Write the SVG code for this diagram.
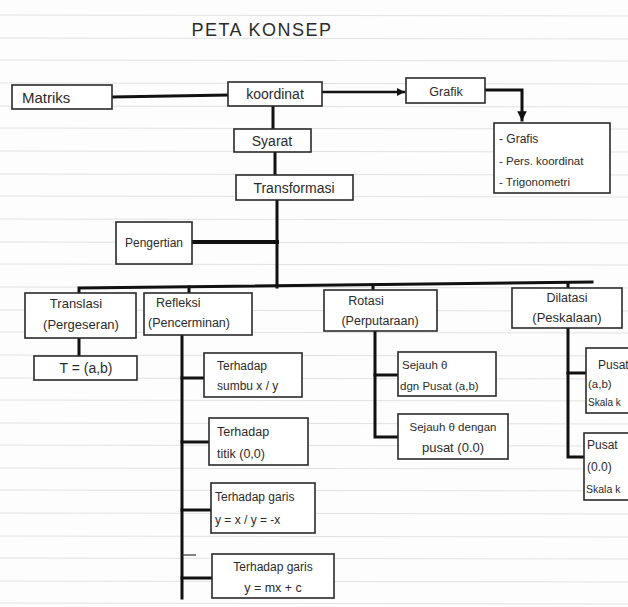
<svg xmlns="http://www.w3.org/2000/svg" width="628" height="607" viewBox="0 0 628 607">
<defs>
<style>
.box{fill:#fff;stroke:#2a2a2a;stroke-width:1.6}
.t{font-family:"Liberation Sans","DejaVu Sans",sans-serif;fill:#2b2b2b;font-size:12.5px}
.c{stroke:#111;stroke-width:3;fill:none;stroke-linecap:square}
.rule{stroke:#e2e2e2;stroke-width:1}
</style>
<marker id="ah" viewBox="0 0 10 10" refX="9" refY="5" markerWidth="3.2" markerHeight="3.2" orient="auto">
<path d="M0,0 L10,5 L0,10 Z" fill="#111"/>
</marker>
</defs>
<rect width="628" height="607" fill="#fdfdfd"/>
<g id="paper-lines">
<line class="rule" x1="0" y1="15" x2="628" y2="16"/>
<line class="rule" x1="0" y1="38" x2="628" y2="39"/>
<line class="rule" x1="0" y1="60" x2="628" y2="61"/>
<line class="rule" x1="0" y1="83" x2="628" y2="84"/>
<line class="rule" x1="0" y1="106" x2="628" y2="107"/>
<line class="rule" x1="0" y1="128" x2="628" y2="129"/>
<line class="rule" x1="0" y1="151" x2="628" y2="152"/>
<line class="rule" x1="0" y1="174" x2="628" y2="175"/>
<line class="rule" x1="0" y1="196" x2="628" y2="197"/>
<line class="rule" x1="0" y1="219" x2="628" y2="220"/>
<line class="rule" x1="0" y1="242" x2="628" y2="243"/>
<line class="rule" x1="0" y1="264" x2="628" y2="265"/>
<line class="rule" x1="0" y1="287" x2="628" y2="288"/>
<line class="rule" x1="0" y1="310" x2="628" y2="311"/>
<line class="rule" x1="0" y1="332" x2="628" y2="333"/>
<line class="rule" x1="0" y1="355" x2="628" y2="356"/>
<line class="rule" x1="0" y1="378" x2="628" y2="379"/>
<line class="rule" x1="0" y1="400" x2="628" y2="401"/>
<line class="rule" x1="0" y1="423" x2="628" y2="424"/>
<line class="rule" x1="0" y1="445" x2="628" y2="446"/>
<line class="rule" x1="0" y1="468" x2="628" y2="469"/>
<line class="rule" x1="0" y1="490" x2="628" y2="491"/>
<line class="rule" x1="0" y1="513" x2="628" y2="514"/>
<line class="rule" x1="0" y1="536" x2="628" y2="537"/>
<line class="rule" x1="0" y1="558" x2="628" y2="559"/>
<line class="rule" x1="0" y1="581" x2="628" y2="582"/>
<line class="rule" x1="0" y1="603" x2="628" y2="604"/>
</g>
<text class="t" x="262" y="36" text-anchor="middle" style="font-size:18px;letter-spacing:1.5px">PETA KONSEP</text>
<g id="connectors">
<line class="c" x1="112" y1="97" x2="228" y2="95"/>
<line class="c" x1="322" y1="92" x2="404" y2="92" marker-end="url(#ah)" style="stroke-width:2.5"/>
<path class="c" d="M485,90 H522 V120" marker-end="url(#ah)"/>
<line class="c" x1="273" y1="106" x2="273" y2="129"/>
<line class="c" x1="275" y1="152" x2="275" y2="175"/>
<line class="c" x1="277" y1="200" x2="277" y2="287"/>
<line class="c" x1="192" y1="242" x2="277" y2="242" style="stroke-width:4"/>
<path class="c" d="M79,293 V288 L592,282"/>
<line class="c" x1="189" y1="287" x2="189" y2="293"/>
<line class="c" x1="373" y1="285" x2="373" y2="290"/>
<line class="c" x1="568" y1="283" x2="568" y2="288"/>
<line class="c" x1="79" y1="338" x2="79" y2="356"/>
<line class="c" x1="182" y1="335" x2="182" y2="598"/>
<line class="c" x1="182" y1="378" x2="204" y2="378"/>
<line class="c" x1="182" y1="442" x2="209" y2="442"/>
<line class="c" x1="182" y1="510" x2="211" y2="510"/>
<line class="c" x1="182" y1="578" x2="212" y2="578"/>
<line x1="182" y1="555" x2="196" y2="555" stroke="#333" stroke-width="1.2"/>
<path class="c" d="M375,331 V437 H398"/>
<line class="c" x1="375" y1="375" x2="398" y2="375"/>
<path class="c" d="M568,328 V457 H584"/>
<line class="c" x1="568" y1="373" x2="586" y2="373"/>
</g>
<g id="matriks"><rect class="box" x="12" y="85" width="100" height="24"/><text class="t" x="22" y="103" style="font-size:15px">Matriks</text></g>
<g id="koordinat"><rect class="box" x="228" y="82" width="94" height="24"/><text class="t" x="275" y="99" text-anchor="middle" style="font-size:14px">koordinat</text></g>
<g id="grafik"><rect class="box" x="406" y="78" width="79" height="25"/><text class="t" x="446" y="96" text-anchor="middle">Grafik</text></g>
<g id="grafik-list"><rect class="box" x="494" y="123" width="116" height="70"/>
<text class="t" x="499" y="143" style="font-size:12px">- Grafis</text>
<text class="t" x="499" y="165" style="font-size:11.5px">- Pers. koordinat</text>
<text class="t" x="499" y="186" style="font-size:11.5px">- Trigonometri</text></g>
<g id="syarat"><rect class="box" x="234" y="129" width="77" height="23"/><text class="t" x="272" y="146" text-anchor="middle" style="font-size:14px">Syarat</text></g>
<g id="transformasi"><rect class="box" x="236" y="175" width="117" height="25"/><text class="t" x="294" y="193" text-anchor="middle" style="font-size:14px">Transformasi</text></g>
<g id="pengertian"><rect class="box" x="116" y="222" width="76" height="42"/><text class="t" x="154" y="247" text-anchor="middle" style="font-size:12px">Pengertian</text></g>
<g id="translasi"><rect class="box" x="25" y="293" width="111" height="45"/>
<text class="t" x="76" y="308" text-anchor="middle" style="font-size:13px">Translasi</text>
<text class="t" x="81" y="329" text-anchor="middle" style="font-size:13px">(Pergeseran)</text></g>
<g id="refleksi"><rect class="box" x="144" y="293" width="108" height="42"/>
<text class="t" x="156" y="307">Refleksi</text>
<text class="t" x="148" y="327">(Pencerminan)</text></g>
<g id="rotasi"><rect class="box" x="324" y="290" width="113" height="41"/>
<text class="t" x="366" y="305" text-anchor="middle">Rotasi</text>
<text class="t" x="380" y="325" text-anchor="middle">(Perputaraan)</text></g>
<g id="dilatasi"><rect class="box" x="512" y="288" width="110" height="40"/>
<text class="t" x="567" y="302" text-anchor="middle">Dilatasi</text>
<text class="t" x="567" y="322" text-anchor="middle" style="font-size:13px">(Peskalaan)</text></g>
<g id="translasi-rumus"><rect class="box" x="34" y="356" width="103" height="24"/><text class="t" x="86" y="373" text-anchor="middle" style="font-size:14px">T = (a,b)</text></g>
<g id="refleksi-sumbu"><rect class="box" x="204" y="353" width="98" height="44"/>
<text class="t" x="217" y="370" style="font-size:12px">Terhadap</text>
<text class="t" x="217" y="390" style="font-size:12px">sumbu x / y</text></g>
<g id="refleksi-titik"><rect class="box" x="209" y="418" width="99" height="47"/>
<text class="t" x="217" y="436" style="font-size:12.5px">Terhadap</text>
<text class="t" x="217" y="458" style="font-size:12.5px">titik (0,0)</text></g>
<g id="refleksi-garis-yx"><rect class="box" x="211" y="483" width="104" height="50"/>
<text class="t" x="215" y="501" style="font-size:12px">Terhadap garis</text>
<text class="t" x="215" y="524" style="font-size:12px">y = x / y = -x</text></g>
<g id="refleksi-garis-mx"><rect class="box" x="212" y="554" width="122" height="44"/>
<text class="t" x="273" y="571" text-anchor="middle" style="font-size:12px">Terhadap garis</text>
<text class="t" x="273" y="592" text-anchor="middle" style="font-size:12.5px">y = mx + c</text></g>
<g id="rotasi-ab"><rect class="box" x="398" y="352" width="98" height="44"/>
<text class="t" x="402" y="369" style="font-size:11.5px">Sejauh θ</text>
<text class="t" x="400" y="390" style="font-size:11.5px">dgn Pusat (a,b)</text></g>
<g id="rotasi-00"><rect class="box" x="398" y="414" width="110" height="45"/>
<text class="t" x="453" y="431" text-anchor="middle" style="font-size:11.5px">Sejauh θ dengan</text>
<text class="t" x="453" y="452" text-anchor="middle" style="font-size:13px">pusat (0.0)</text></g>
<g id="dilatasi-ab"><rect class="box" x="586" y="348" width="60" height="65"/>
<text class="t" x="598" y="369" style="font-size:12px">Pusat</text>
<text class="t" x="588" y="388" style="font-size:11.5px">(a,b)</text>
<text class="t" x="588" y="406" style="font-size:10px">Skala k</text></g>
<g id="dilatasi-00"><rect class="box" x="584" y="433" width="60" height="67"/>
<text class="t" x="587" y="449" style="font-size:12px">Pusat</text>
<text class="t" x="587" y="471" style="font-size:12px">(0.0)</text>
<text class="t" x="586" y="493" style="font-size:10.5px">Skala k</text></g>
</svg>
